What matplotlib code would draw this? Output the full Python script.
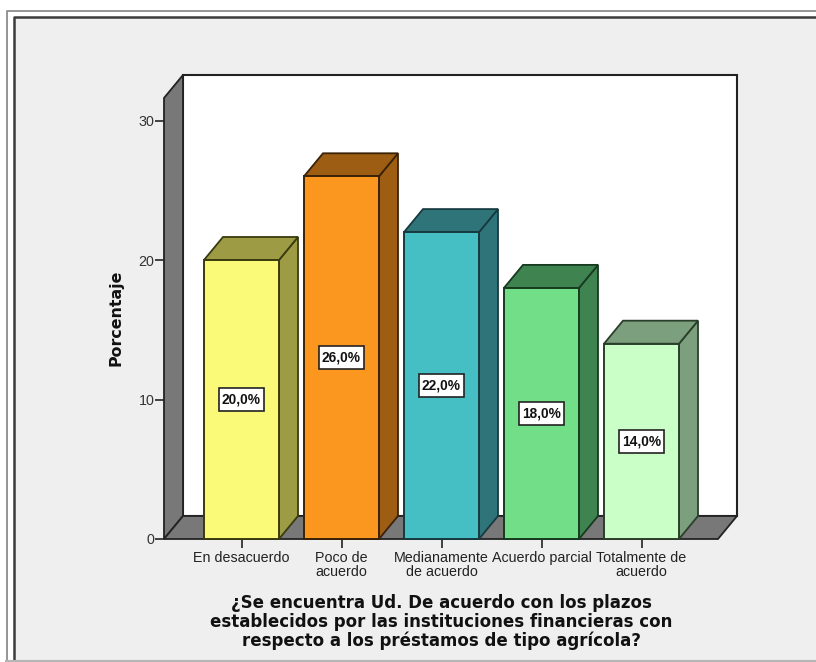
import matplotlib
matplotlib.use("Agg")
import matplotlib.pyplot as plt
from matplotlib.lines import Line2D
from matplotlib.patches import Rectangle

# ================= data =================
categories = ["En desacuerdo", "Poco de\nacuerdo", "Medianamente\nde acuerdo",
              "Acuerdo parcial", "Totalmente de\nacuerdo"]
values = [20, 26, 22, 18, 14]
value_labels = ["20,0%", "26,0%", "22,0%", "18,0%", "14,0%"]
y_ticks = [0, 10, 20, 30]

front_colors = ["#FBF978", "#FB961F", "#46BFC4", "#72DE87", "#CAFFC8"]
side_colors = ["#9D9C45", "#9D5D13", "#2F7479", "#3F8350", "#7C9F7D"]
edge_colors = ["#3A3A10", "#3A2208", "#163A40", "#173A20", "#2A3F2A"]

title = ("¿Se encuentra Ud. De acuerdo con los plazos\n"
         "establecidos por las instituciones financieras con\n"
         "respecto a los préstamos de tipo agrícola?")

W, H = 816, 662
plt.rcParams["font.family"] = ["Liberation Sans", "DejaVu Sans"]

fig = plt.figure(figsize=(W / 100, H / 100), dpi=100, facecolor="white")

# ================= window frame, in pixels =================
bg = fig.add_axes([0, 0, 1, 1])
bg.set_xlim(0, W)
bg.set_ylim(H, 0)
bg.axis("off")
bg.add_patch(Rectangle((14, 17), W, H, fc="#EFEFEF", ec="none"))
bg.add_line(Line2D([6.5, 6.5, W], [H, 10.5, 10.5], color="#8C8C8C", lw=1.3))
bg.add_line(Line2D([14, 14, W], [H, 16.5, 16.5], color="#3C3C3C", lw=1.8))
bg.add_line(Line2D([6, W], [660.5, 660.5], color="#B5B5B5", lw=1.5))

# ================= chart axes =================
left, right, bottom, top = 164, 718, 539, 98
ax = fig.add_axes([left / W, 1 - bottom / H, (right - left) / W, (bottom - top) / H])
ax.set_xlim(-0.775, 4.765)
ax.set_ylim(0, (bottom - top) / 13.95)
ax.patch.set_alpha(0)
for s in ax.spines.values():
    s.set_visible(False)

dx = 0.19    # depth of the 3D effect, in data units
dy = 1.65
x_lo, x_hi = ax.get_xlim()
y_hi = ax.get_ylim()[1]
wall = "#787878"
line = "#222222"

# back wall, side wall, floor
ax.fill([x_lo + dx, x_hi + dx, x_hi + dx, x_lo + dx], [dy, dy, y_hi + dy, y_hi + dy],
        fc="white", ec=line, lw=1.5, clip_on=False, zorder=1)
ax.fill([x_lo, x_lo + dx, x_lo + dx, x_lo], [0, dy, y_hi + dy, y_hi],
        fc=wall, ec=line, lw=1.3, clip_on=False, zorder=2)
ax.fill([x_lo, x_hi, x_hi + dx, x_lo + dx], [0, 0, dy, dy],
        fc=wall, ec=line, lw=1.3, clip_on=False, zorder=2)

# bars
bar_w = 0.75
for i, v in enumerate(values):
    x0, x1 = i - bar_w / 2, i + bar_w / 2
    ax.fill([x1, x1 + dx, x1 + dx, x1], [0, dy, v + dy, v],
            fc=side_colors[i], ec=edge_colors[i], lw=1.3, clip_on=False, zorder=3)
    ax.fill([x0, x1, x1 + dx, x0 + dx], [v, v, v + dy, v + dy],
            fc=side_colors[i], ec=edge_colors[i], lw=1.3, clip_on=False, zorder=3)
ax.bar(range(len(values)), values, width=bar_w, color=front_colors,
       edgecolor=edge_colors, linewidth=1.4, zorder=4, clip_on=False)

# value labels in small white boxes
box_w = 0.45
box_h = 1.65
for i, v in enumerate(values):
    ax.add_patch(Rectangle((i - box_w / 2, v / 2 - box_h / 2), box_w, box_h,
                           fc="white", ec="#222222", lw=1.2, zorder=5))
    ax.text(i, v / 2, value_labels[i], ha="center", va="center", fontsize=9.9,
            fontweight="bold", color="#111111", zorder=6)

ax.set_xticks(range(len(values)))
ax.set_xticklabels(categories, fontsize=10.3, color="#222222", linespacing=1.0)
ax.set_yticks(y_ticks)
ax.set_yticklabels([str(t) for t in y_ticks], fontsize=10.3, color="#333333")
ax.tick_params(axis="x", length=6.5, width=1.3, color="#333333", pad=2)
ax.tick_params(axis="y", length=6.5, width=1.3, color="#333333", pad=0.5)

fig.text(116 / W, 1 - 318 / H, "Porcentaje", rotation=90, ha="center", va="center",
         fontsize=11.4, fontweight="bold", color="#111111", family="DejaVu Sans")
fig.text(441 / W, 1 - 622 / H, title, ha="center", va="center", fontsize=12,
         fontweight="bold", color="#111111", family="DejaVu Sans", linespacing=1.03)

fig.savefig("out.png", dpi=100)
